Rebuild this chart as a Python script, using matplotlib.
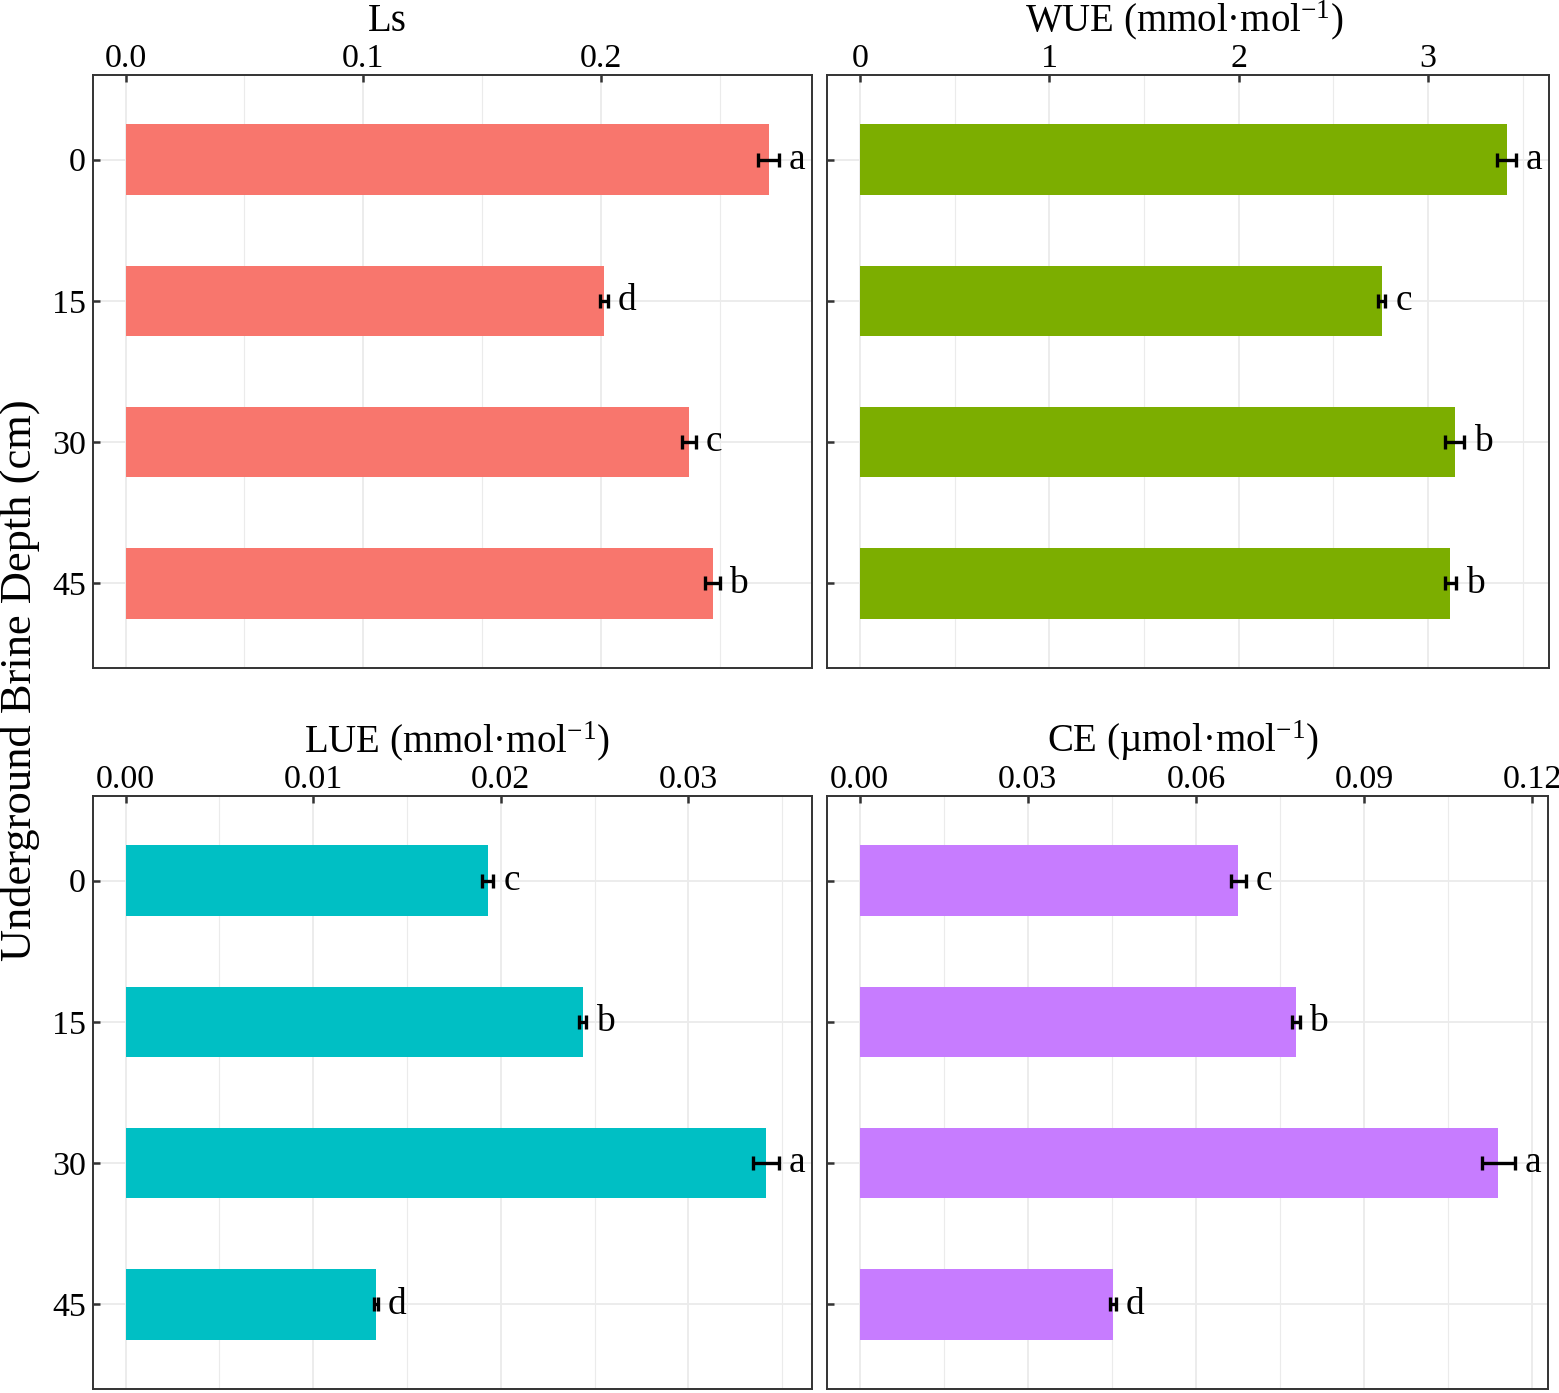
import matplotlib
matplotlib.use("Agg")
import matplotlib.pyplot as plt
import numpy as np

plt.rcParams['font.family'] = ['Liberation Serif', 'DejaVu Serif']
plt.rcParams['mathtext.fontset'] = 'custom'
plt.rcParams['mathtext.rm'] = 'Liberation Serif'
plt.rcParams['mathtext.it'] = 'Liberation Serif:italic'

# ---- data ----
depths = ["0", "15", "30", "45"]

ls_vals = [0.2706, 0.2013, 0.2370, 0.2470]
ls_err = [0.0045, 0.0015, 0.0030, 0.0030]
ls_letters = ["a", "d", "c", "b"]
ls_ticks = [0.0, 0.1, 0.2]
ls_ticklabels = ["0.0", "0.1", "0.2"]

wue_vals = [3.415, 2.755, 3.140, 3.118]
wue_err = [0.050, 0.020, 0.050, 0.030]
wue_letters = ["a", "c", "b", "b"]
wue_ticks = [0, 1, 2, 3]
wue_ticklabels = ["0", "1", "2", "3"]

lue_vals = [0.01931, 0.02436, 0.03415, 0.01335]
lue_err = [0.0003, 0.0002, 0.0007, 0.0001]
lue_letters = ["c", "b", "a", "d"]
lue_ticks = [0.00, 0.01, 0.02, 0.03]
lue_ticklabels = ["0.00", "0.01", "0.02", "0.03"]

ce_vals = [0.0676, 0.0778, 0.1140, 0.0452]
ce_err = [0.0013, 0.0007, 0.0030, 0.0006]
ce_letters = ["c", "b", "a", "d"]
ce_ticks = [0.00, 0.03, 0.06, 0.09, 0.12]
ce_ticklabels = ["0.00", "0.03", "0.06", "0.09", "0.12"]

titles = ["Ls", r"WUE (mmol·mol$^{\mathrm{-1}}$)",
          r"LUE (mmol·mol$^{\mathrm{-1}}$)", r"CE (µmol·mol$^{\mathrm{-1}}$)"]
colors = ["#F8766D", "#7CAE00", "#00BFC4", "#C77CFF"]
ylabel = "Underground Brine Depth (cm)"

W, H = 1559, 1393
fig = plt.figure(figsize=(W / 100, H / 100), dpi=100)

boxes = [(93, 812, 75, 668), (827, 1549, 75, 668),
         (93, 812, 796, 1389), (827, 1548, 796, 1389)]
title_x = [387, 1184, 457, 1183]
title_base = [31, 31, 752, 752]

panels = [
    (ls_vals, ls_err, ls_letters, ls_ticks, ls_ticklabels),
    (wue_vals, wue_err, wue_letters, wue_ticks, wue_ticklabels),
    (lue_vals, lue_err, lue_letters, lue_ticks, lue_ticklabels),
    (ce_vals, ce_err, ce_letters, ce_ticks, ce_ticklabels),
]

for i, ((vals, err, letters, ticks, tlabels), box) in enumerate(zip(panels, boxes)):
    x0, x1, y0, y1 = box
    ax = fig.add_axes([x0 / W, 1 - y1 / H, (x1 - x0) / W, (y1 - y0) / H])
    vals = np.array(vals)
    err = np.array(err)
    ypos = np.arange(len(depths))
    ax.barh(ypos, vals, height=0.5, color=colors[i], zorder=2)
    ax.errorbar(vals, ypos, xerr=err, fmt='none', ecolor='black',
                elinewidth=2.4, capsize=5, capthick=2.4, zorder=3)
    for y, v, e, lab in zip(ypos, vals, err, letters):
        ax.annotate(lab, (v + e, y), xytext=(7, 0), textcoords='offset points',
                    ha='left', va='center', fontsize=27, zorder=4)
    vmax = (vals + err).max()
    pad = vmax * 0.05
    ax.set_yticks(ypos)
    ax.set_yticklabels(depths if i % 2 == 0 else [])
    ax.set_xticks(ticks)
    ax.set_xticklabels(tlabels)
    step = ticks[1] - ticks[0]
    minor = [t + step / 2 for t in ticks if t + step / 2 < vmax + pad]
    ax.set_xticks(minor, minor=True)
    ax.set_xlim(-pad, vmax + pad)
    ax.set_ylim(len(depths) - 1 + 0.6, -0.6)
    ax.xaxis.set_ticks_position('top')
    ax.tick_params(axis='x', which='major', direction='in', length=5, width=1.8,
                   color='#333333', labelsize=24.5, pad=1)
    ax.tick_params(axis='x', which='minor', length=0)
    ax.tick_params(axis='y', which='major', direction='in', length=5, width=1.8,
                   color='#333333', labelsize=24.5, pad=5)
    ax.grid(True, which='major', color='#EBEBEB', linewidth=1.3, zorder=0)
    ax.grid(True, which='minor', axis='x', color='#EBEBEB', linewidth=0.8, zorder=0)
    ax.set_axisbelow(True)
    for s in ax.spines.values():
        s.set_color('#333333')
        s.set_linewidth(1.4)
    fig.text(title_x[i] / W, 1 - title_base[i] / H, titles[i], ha='center',
             va='baseline', fontsize=28)

fig.text(20 / W, 1 - 680 / H, ylabel, rotation=90, ha='center', va='center',
         fontsize=32)

fig.savefig("out.png", dpi=100, facecolor='white')
